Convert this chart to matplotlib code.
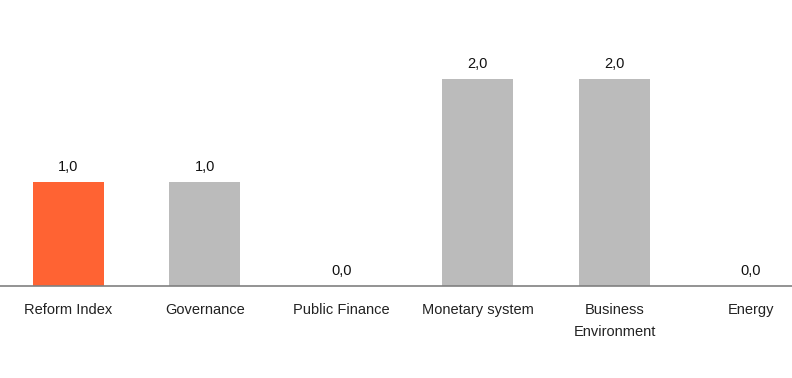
import matplotlib.pyplot as plt

plt.rcParams['font.family'] = ['Liberation Sans', 'DejaVu Sans']

categories = ['Reform Index', 'Governance', 'Public Finance', 'Monetary system',
              'Business\nEnvironment', 'Energy']
values = [1.0, 1.0, 0.0, 2.0, 2.0, 0.0]
colors = ['#FF6333', '#BBBBBB', '#BBBBBB', '#BBBBBB', '#BBBBBB', '#BBBBBB']

fig = plt.figure(figsize=(7.92, 3.78), dpi=100)
ax = fig.add_axes([0, 1 - 286 / 378, 1, 286 / 378])

x = range(len(categories))
bars = ax.bar(x, values, width=0.52, color=colors)

for bar, v in zip(bars, values):
    ax.annotate(f'{v:.1f}'.replace('.', ','),
                xy=(bar.get_x() + bar.get_width() / 2, v),
                xytext=(0, 6), textcoords='offset points',
                ha='center', va='bottom', fontsize=10.5, color='#111111')

ax.set_xlim(-0.5, 5.3)
ax.set_ylim(0, 2.763)
ax.set_xticks(list(x))
ax.set_xticklabels(categories, fontsize=10.5, color='#222222', linespacing=1.7)
ax.tick_params(axis='x', length=0, pad=12.5)
ax.set_yticks([])
for s in ['top', 'left', 'right']:
    ax.spines[s].set_visible(False)
ax.spines['bottom'].set_color('#808080')
ax.spines['bottom'].set_linewidth(1.2)

fig.savefig('out.png', dpi=100)
